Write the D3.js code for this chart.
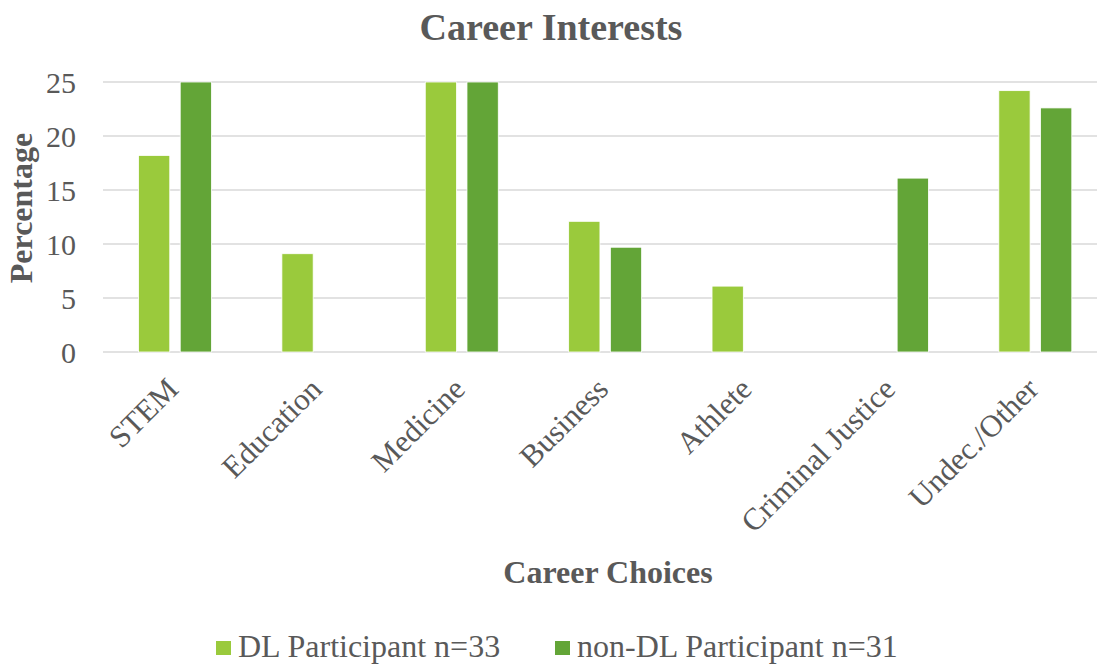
<!DOCTYPE html>
<html>
<head>
<meta charset="utf-8">
<script src="https://cdn.jsdelivr.net/npm/d3@7"></script>
<style>
  body { margin: 0; background: #fff; }
  text { font-family: "Liberation Serif", "Times New Roman", serif; fill: #595959; }
</style>
</head>
<body>
<svg width="1098" height="666"></svg>
<script>
const categories = ["STEM", "Education", "Medicine", "Business", "Athlete", "Criminal Justice", "Undec./Other"];
const dlValues = [18.2, 9.1, 27.3, 12.1, 6.1, 0, 24.2];
const nonDlValues = [25.8, 0, 25.8, 9.7, 0, 16.1, 22.6];
const seriesNames = ["DL Participant n=33", "non-DL Participant n=31"];
const yTicks = [0, 5, 10, 15, 20, 25];

const colors = ["#9ACA3C", "#63A537"];

const svg = d3.select("svg");
const width = +svg.attr("width");

// plot area runs a bit past the right edge, like the original
const x = d3.scaleBand()
    .domain(categories)
    .range([103.3, 1107]);

const y = d3.scaleLinear()
    .domain([0, 25])
    .range([352, 82])
    .clamp(true);

// gridlines
svg.append("g")
    .selectAll("line")
    .data(yTicks)
    .join("line")
    .attr("x1", 103)
    .attr("x2", width - 1)
    .attr("y1", d => y(d))
    .attr("y2", d => y(d))
    .attr("stroke", "#d9d9d9")
    .attr("stroke-width", 1.5);

// y tick labels
svg.append("g")
    .selectAll("text")
    .data(yTicks)
    .join("text")
    .attr("x", 76)
    .attr("y", d => y(d))
    .attr("dy", "0.35em")
    .attr("text-anchor", "end")
    .attr("font-size", 30)
    .text(d => d);

const x1 = d3.scaleBand()
    .domain([0, 1])
    .range([0, 73])
    .paddingInner(0.25);

const series = [dlValues, nonDlValues];
const g = svg.append("g");
series.forEach(function(vals, si) {
    g.selectAll(".s" + si)
        .data(vals)
        .join("rect")
        .attr("class", "s" + si)
        .attr("x", (d, i) => x(categories[i]) + x.bandwidth() / 2 - 36.5 + x1(si))
        .attr("width", x1.bandwidth())
        .attr("y", d => y(d))
        .attr("height", d => y(0) - y(d))
        .attr("fill", colors[si])
        .attr("stroke", "#fff")
        .attr("stroke-width", 0.8);
});

// x labels
svg.append("g")
    .selectAll("text")
    .data(categories)
    .join("text")
    .attr("transform", d => "translate(" + (x(d) + x.bandwidth() / 2 + 5) + ",391) rotate(-45)")
    .attr("text-anchor", "end")
    .attr("font-size", 31)
    .text(d => d);

// title
svg.append("text")
    .attr("x", 551)
    .attr("y", 40)
    .attr("text-anchor", "middle")
    .attr("font-size", 38)
    .attr("font-weight", "bold")
    .text("Career Interests");

svg.append("text")
    .attr("x", 608)
    .attr("y", 583)
    .attr("text-anchor", "middle")
    .attr("font-size", 32)
    .attr("font-weight", "bold")
    .text("Career Choices");

svg.append("text")
    .attr("transform", "translate(32,208) rotate(-90)")
    .attr("text-anchor", "middle")
    .attr("font-size", 32)
    .attr("font-weight", "bold")
    .text("Percentage");

// legend
const legendX = [216, 555];
const legend = svg.append("g")
    .selectAll("g")
    .data(seriesNames)
    .join("g")
    .attr("transform", (d, i) => "translate(" + legendX[i] + ",641)");
legend.append("rect")
    .attr("x", 0)
    .attr("y", 0)
    .attr("width", 15)
    .attr("height", 14)
    .attr("fill", (d, i) => colors[i]);
legend.append("text")
    .attr("x", 22)
    .attr("y", 16)
    .attr("font-size", 32)
    .text(d => d);
</script>
</body>
</html>
